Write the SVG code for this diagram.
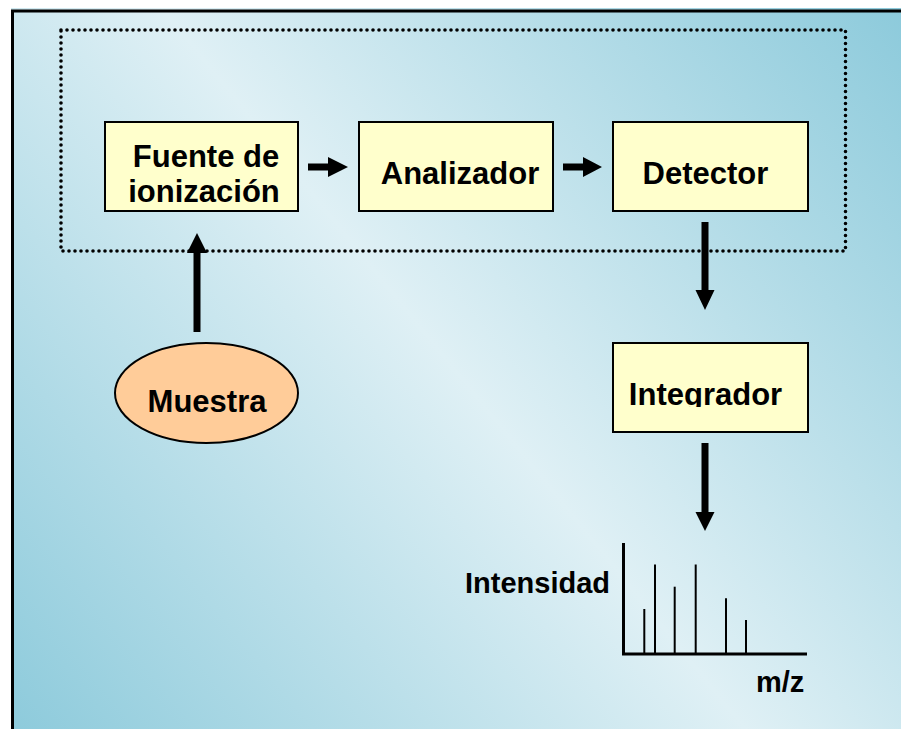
<svg xmlns="http://www.w3.org/2000/svg" width="901" height="729" viewBox="0 0 901 729">
<defs>
<linearGradient id="bg" gradientUnits="userSpaceOnUse" x1="901" y1="0" x2="0" y2="729">
<stop offset="0" stop-color="#8ccadb"/>
<stop offset="0.5" stop-color="#dff0f5"/>
<stop offset="1" stop-color="#8ccadb"/>
</linearGradient>
<clipPath id="clipInt"><rect x="613" y="343" width="195" height="64"/></clipPath>
</defs>
<style>
.box{fill:#ffffcc;stroke:#000;stroke-width:2}
.lbl{font-family:"Liberation Sans",Arial,sans-serif;font-weight:bold;font-size:31px;fill:#000;text-anchor:middle}
.small{font-family:"Liberation Sans",Arial,sans-serif;font-weight:bold;font-size:29px;fill:#000}
.arrow{fill:#000}
.peak{stroke:#000;stroke-width:2}
</style>
<rect x="11" y="8" width="890" height="721" fill="url(#bg)"/>
<path d="M12.5,729 V11 H901" fill="none" stroke="#000" stroke-width="3"/>
<rect x="61" y="30" width="784.5" height="221" fill="none" stroke="#000" stroke-width="3.6" stroke-dasharray="0 6" stroke-linecap="round"/>

<g id="fuente">
<rect class="box" x="105" y="122" width="193" height="89"/>
<text class="lbl" x="206" y="167">Fuente de</text>
<text class="lbl" x="204" y="202">ionización</text>
</g>
<g id="analizador">
<rect class="box" x="359" y="122" width="194" height="89"/>
<text class="lbl" x="460" y="184">Analizador</text>
</g>
<g id="detector">
<rect class="box" x="613" y="122" width="195" height="89"/>
<text class="lbl" x="705.5" y="184">Detector</text>
</g>
<g id="integrador">
<rect class="box" x="613" y="343" width="195" height="89"/>
<text class="lbl" x="705.5" y="405" clip-path="url(#clipInt)">Integrador</text>
</g>
<g id="muestra">
<ellipse cx="206.5" cy="393" rx="91.5" ry="50" fill="#ffcc99" stroke="#000" stroke-width="2"/>
<text class="lbl" x="207" y="412">Muestra</text>
</g>

<g id="connectors">
<polygon class="arrow" points="308,163.5 328,163.5 328,157 348,167 328,177 328,170.5 308,170.5"/>
<polygon class="arrow" points="563,163.5 583,163.5 583,157 602,167 583,177 583,170.5 563,170.5"/>
<polygon class="arrow" points="193.5,332 193.5,253 187,253 197,233 207,253 200.5,253 200.5,332"/>
<polygon class="arrow" points="701.5,222 701.5,290 695.5,290 705,310 714.5,290 708.5,290 708.5,222"/>
<polygon class="arrow" points="701.5,443 701.5,512 695.5,512 705,531 714.5,512 708.5,512 708.5,443"/>
</g>

<g id="spectrum">
<path d="M623.5,543 V654 H807" fill="none" stroke="#000" stroke-width="3"/>
<line class="peak" x1="644.3" y1="609" x2="644.3" y2="653"/>
<line class="peak" x1="655" y1="564.5" x2="655" y2="653"/>
<line class="peak" x1="674.7" y1="586.7" x2="674.7" y2="653"/>
<line class="peak" x1="695.7" y1="564.5" x2="695.7" y2="653"/>
<line class="peak" x1="726" y1="598.3" x2="726" y2="653"/>
<line class="peak" x1="746" y1="620" x2="746" y2="653"/>
<text class="small" x="465" y="593">Intensidad</text>
<text class="small" x="756" y="692">m/z</text>
</g>
</svg>
